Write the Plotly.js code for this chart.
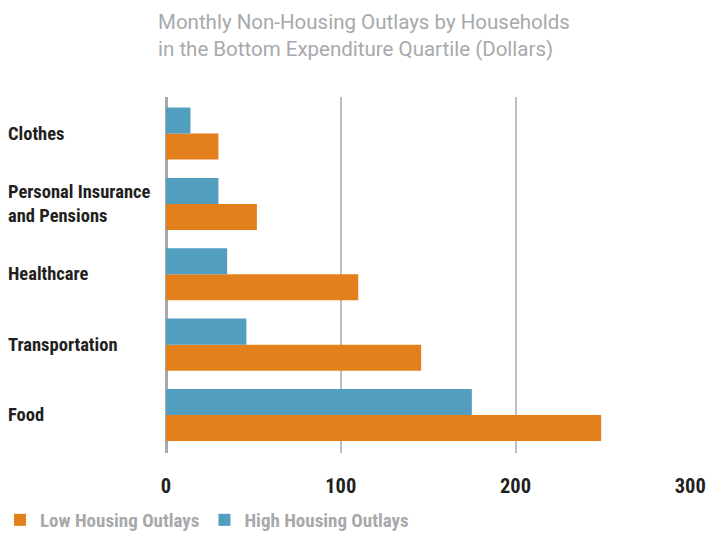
<!DOCTYPE html>
<html>
<head>
<meta charset="utf-8">
<script src="https://cdn.plot.ly/plotly-3.0.1.min.js"></script>
<style>html,body{margin:0;padding:0;background:#fff;}#chart{width:707px;height:533px;}</style>
</head>
<body>
<div id="chart"></div>
<script>
const categories = ["Food", "Transportation", "Healthcare", "Personal Insurance and Pensions", "Clothes"];
const categoryLabels = ["Food", "Transportation", "Healthcare", "Personal Insurance<br>and Pensions", "Clothes"];
const lowHousing = [249, 146, 110, 52, 30];
const highHousing = [175, 46, 35, 30, 14];
const seriesNames = ["Low Housing Outlays", "High Housing Outlays"];
const xTicks = [0, 100, 200, 300];

const FONT = '"Roboto Condensed", "Liberation Sans Narrow", "DejaVu Sans Condensed", sans-serif';
const TITLE_FONT = 'Roboto, "Liberation Sans", sans-serif';
const ORANGE = '#E3801C';
const BLUE = '#529EBF';
const GRAY = '#A7A9AC';

const traces = [
  {type: 'bar', orientation: 'h', name: seriesNames[0], y: categories, x: lowHousing,
   marker: {color: ORANGE}, hoverinfo: 'x+name'},
  {type: 'bar', orientation: 'h', name: seriesNames[1], y: categories, x: highHousing,
   marker: {color: BLUE}, hoverinfo: 'x+name'}
];

const annotations = categories.map((c, i) => ({
  xref: 'paper', yref: 'y', x: -0.3053, y: c, xanchor: 'left', yanchor: 'middle', align: 'left',
  text: '<b>' + categoryLabels[i] + '</b>', showarrow: false,
  font: {family: FONT, size: 18.5, color: '#231F20'}
}));

const layout = {
  width: 707, height: 533,
  margin: {l: 166, r: 16, t: 97, b: 80, autoexpand: false},
  paper_bgcolor: '#fff', plot_bgcolor: '#fff',
  barmode: 'group', bargap: 0.26, bargroupgap: 0,
  title: {
    text: 'Monthly Non-Housing Outlays by Households<br>in the Bottom Expenditure Quartile (Dollars)',
    xref: 'container', yref: 'container', x: 158/707, xanchor: 'left', y: 1 - 29/533, yanchor: 'top',
    font: {family: TITLE_FONT, size: 20.5, color: GRAY}
  },
  xaxis: {
    range: [0, 300.4], tickvals: xTicks, ticktext: xTicks.map(v => '<b>' + v + '</b>'),
    showgrid: true, gridcolor: '#BDBEC0', gridwidth: 2,
    zeroline: true, zerolinecolor: GRAY, zerolinewidth: 3,
    showline: false, ticks: '', ticklabelstandoff: 18,
    tickfont: {family: FONT, size: 20.5, color: '#231F20'}, fixedrange: true
  },
  yaxis: {
    type: 'category', categoryarray: categories, range: [-0.54, 4.52],
    showticklabels: false, showgrid: false, zeroline: false, showline: false, ticks: '', fixedrange: true
  },
  showlegend: true,
  legend: {
    orientation: 'h', xref: 'container', yref: 'container',
    x: 0, xanchor: 'left', y: 13/533, yanchor: 'middle',
    font: {family: FONT, size: 19, color: GRAY, weight: 'bold'},
    itemclick: false, traceorder: 'normal'
  },
  annotations: annotations
};

Plotly.newPlot('chart', traces, layout, {displayModeBar: false, staticPlot: true});
</script>
</body>
</html>
